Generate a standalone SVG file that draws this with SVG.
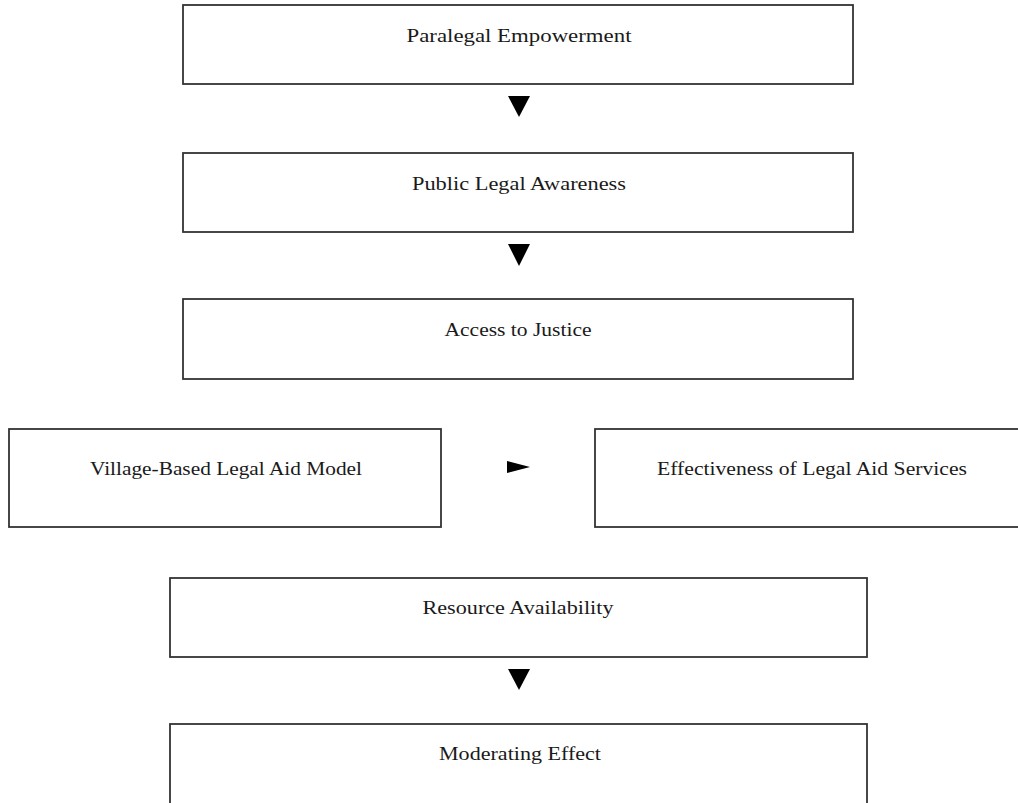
<svg xmlns="http://www.w3.org/2000/svg" width="1018" height="803" viewBox="0 0 1018 803">
<style>
.box{fill:#ffffff;stroke:#333333;stroke-width:1.8}
.lbl{font-family:"Liberation Serif","DejaVu Serif",serif;font-size:19px;fill:#1a1a1a;text-anchor:middle}
.arr{fill:#000000;stroke:none}
</style>
<rect width="1018" height="803" fill="#ffffff"/>
<g id="connectors">
<polygon class="arr" points="508,96 530,96 519,117"/>
<polygon class="arr" points="508,244 530,244 519,266"/>
<polygon class="arr" points="507,461 530,467 507,473"/>
<polygon class="arr" points="508,669 530,669 519,690"/>
</g>
<g id="n1"><rect class="box" x="183" y="5" width="670" height="79"/><text class="lbl" x="519" y="42" textLength="225" lengthAdjust="spacingAndGlyphs">Paralegal Empowerment</text></g>
<g id="n2"><rect class="box" x="183" y="153" width="670" height="79"/><text class="lbl" x="519" y="190" textLength="214" lengthAdjust="spacingAndGlyphs">Public Legal Awareness</text></g>
<g id="n3"><rect class="box" x="183" y="299" width="670" height="80"/><text class="lbl" x="518" y="336" textLength="147" lengthAdjust="spacingAndGlyphs">Access to Justice</text></g>
<g id="n4"><rect class="box" x="9" y="429" width="432" height="98"/><text class="lbl" x="226" y="475" textLength="272" lengthAdjust="spacingAndGlyphs">Village-Based Legal Aid Model</text></g>
<g id="n5"><rect class="box" x="595" y="429" width="440" height="98"/><text class="lbl" x="812" y="475" textLength="310" lengthAdjust="spacingAndGlyphs">Effectiveness of Legal Aid Services</text></g>
<g id="n6"><rect class="box" x="170" y="578" width="697" height="79"/><text class="lbl" x="518" y="614" textLength="191" lengthAdjust="spacingAndGlyphs">Resource Availability</text></g>
<g id="n7"><rect class="box" x="170" y="724" width="697" height="100"/><text class="lbl" x="520" y="760" textLength="162" lengthAdjust="spacingAndGlyphs">Moderating Effect</text></g>
</svg>
